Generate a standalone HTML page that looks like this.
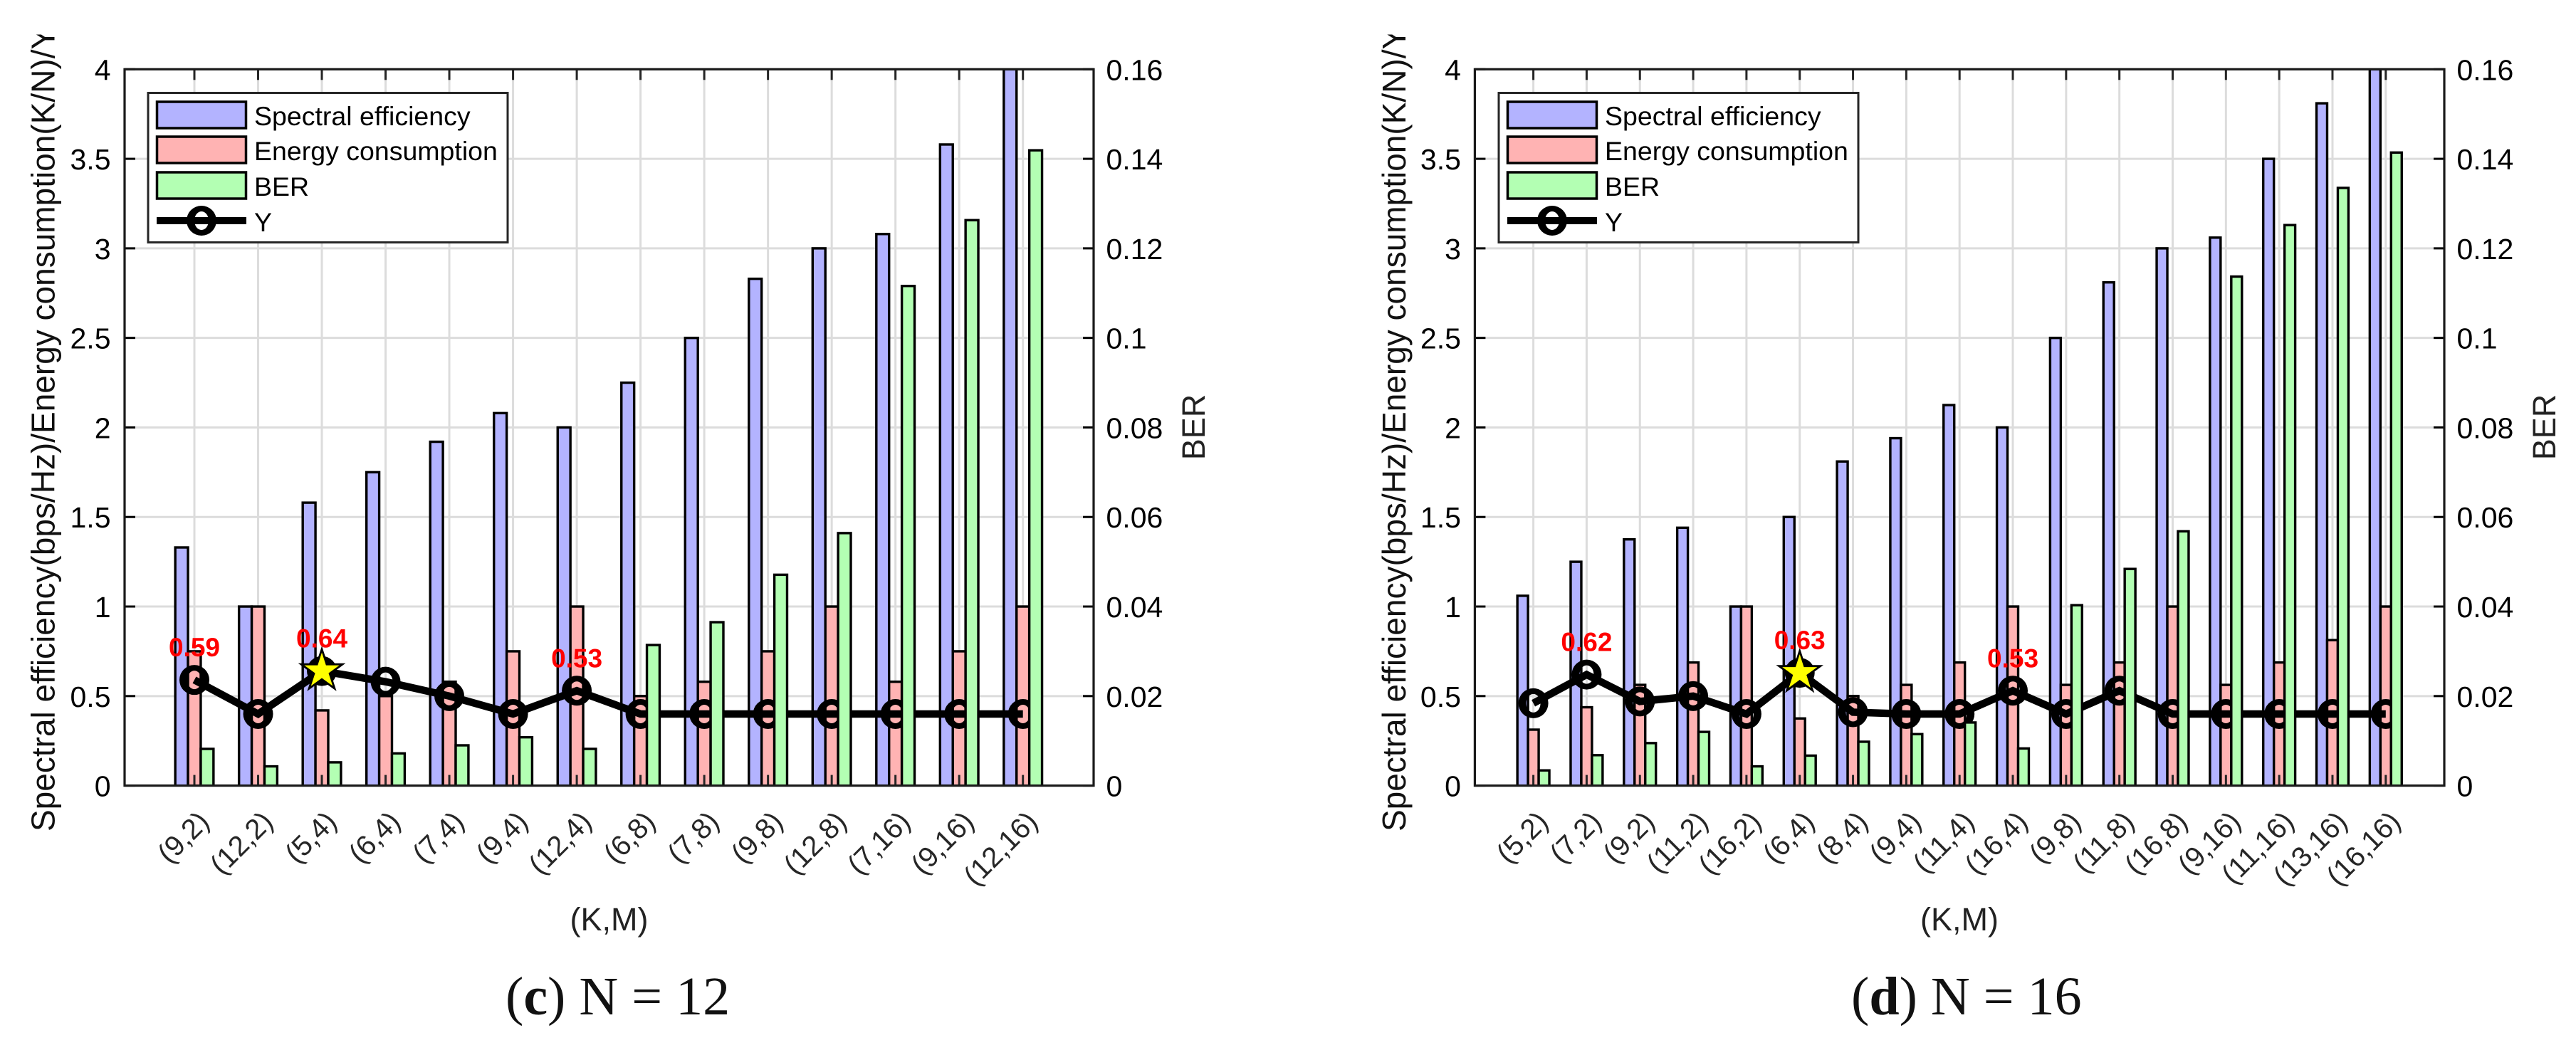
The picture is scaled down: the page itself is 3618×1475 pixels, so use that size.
<!DOCTYPE html>
<html lang="en">
<head>
<meta charset="utf-8">
<title>Spectral efficiency, energy consumption and BER versus (K,M)</title>
<style>
html,body{margin:0;padding:0;background:#fff;}
svg{display:block;font-family:"Liberation Sans",Arial,sans-serif;}
.cap{font-family:"Liberation Serif","Times New Roman",serif;font-size:76px;fill:#111;}
.leg{font-size:37.5px;fill:#000;}
.axt{font-size:45px;fill:#222;}
.ylab{font-size:46px;fill:#111;}
</style>
</head>
<body>
<svg id="figure" xmlns="http://www.w3.org/2000/svg" width="3618" height="1475" viewBox="0 0 3618 1475">
  <defs>
    <clipPath id="title-clip"><rect x="0" y="48.5" width="3618" height="1400"/></clipPath>
  </defs>
  <rect x="0" y="0" width="3618" height="1475" fill="#fff"/>

  <g id="chart-c">
    <g id="marks-c"></g>
    <g clip-path="url(#title-clip)">
      <text class="ylab" transform="translate(76.5,1168) rotate(-90)">Spectral efficiency(bps/Hz)/Energy consumption(K/N)/Y</text>
    </g>
    <text class="axt" text-anchor="middle" transform="translate(1692,600) rotate(-90)">BER</text>
    <text class="axt" text-anchor="middle" x="855.5" y="1307">(K,M)</text>
    <g>
      <rect x="208" y="130.5" width="505" height="210" fill="#fff" stroke="#262626" stroke-width="3"/>
      <rect x="220.5" y="143" width="125" height="37" fill="#b3b3ff" stroke="#000" stroke-width="3.5"/>
      <text class="leg" x="357" y="176">Spectral efficiency</text>
      <rect x="220.5" y="192" width="125" height="37" fill="#ffb3b3" stroke="#000" stroke-width="3.5"/>
      <text class="leg" x="357" y="225">Energy consumption</text>
      <rect x="220.5" y="242" width="125" height="37" fill="#b3ffb3" stroke="#000" stroke-width="3.5"/>
      <text class="leg" x="357" y="275">BER</text>
      <line x1="220" x2="346" y1="310" y2="310" stroke="#000" stroke-width="10"/>
      <path fill-rule="evenodd" fill="#000" d="M262 310a21 21 0 1 0 42 0a21 21 0 1 0 -42 0Z M273 310a10 13 0 1 0 20 0a10 13 0 1 0 -20 0Z"/>
      <text class="leg" x="357" y="325">Y</text>
    </g>
    <text class="cap" x="710" y="1425">(<tspan font-weight="bold">c</tspan>) N = 12</text>
  </g>

  <g id="chart-d">
    <g id="marks-d"></g>
    <g clip-path="url(#title-clip)">
      <text class="ylab" transform="translate(1974,1168) rotate(-90)">Spectral efficiency(bps/Hz)/Energy consumption(K/N)/Y</text>
    </g>
    <text class="axt" text-anchor="middle" transform="translate(3589,600) rotate(-90)">BER</text>
    <text class="axt" text-anchor="middle" x="2752" y="1307">(K,M)</text>
    <g>
      <rect x="2105" y="130.5" width="505" height="210" fill="#fff" stroke="#262626" stroke-width="3"/>
      <rect x="2117.5" y="143" width="125" height="37" fill="#b3b3ff" stroke="#000" stroke-width="3.5"/>
      <text class="leg" x="2254" y="176">Spectral efficiency</text>
      <rect x="2117.5" y="192" width="125" height="37" fill="#ffb3b3" stroke="#000" stroke-width="3.5"/>
      <text class="leg" x="2254" y="225">Energy consumption</text>
      <rect x="2117.5" y="242" width="125" height="37" fill="#b3ffb3" stroke="#000" stroke-width="3.5"/>
      <text class="leg" x="2254" y="275">BER</text>
      <line x1="2117" x2="2243" y1="310" y2="310" stroke="#000" stroke-width="10"/>
      <path fill-rule="evenodd" fill="#000" d="M2159 310a21 21 0 1 0 42 0a21 21 0 1 0 -42 0Z M2170 310a10 13 0 1 0 20 0a10 13 0 1 0 -20 0Z"/>
      <text class="leg" x="2254" y="325">Y</text>
    </g>
    <text class="cap" x="2600" y="1425">(<tspan font-weight="bold">d</tspan>) N = 16</text>
  </g>
</svg>

<script>
// Shared axis ticks
const leftTicks = ["0","0.5","1","1.5","2","2.5","3","3.5","4"];
const rightTicks = ["0","0.02","0.04","0.06","0.08","0.1","0.12","0.14","0.16"];

// Panel (c) N = 12
const categoriesC = ["(9,2)","(12,2)","(5,4)","(6,4)","(7,4)","(9,4)","(12,4)","(6,8)","(7,8)","(9,8)","(12,8)","(7,16)","(9,16)","(12,16)"];
const spectralC = [1.33,1,1.58,1.75,1.92,2.08,2,2.25,2.5,2.83,3,3.08,3.58,4];
const energyC = [0.75,1,0.42,0.5,0.58,0.75,1,0.5,0.58,0.75,1,0.58,0.75,1];
const berC = [0.0082,0.0043,0.0052,0.0072,0.009,0.0108,0.0082,0.0314,0.0365,0.0471,0.0564,0.1116,0.1263,0.1419];
const utilityC = [0.59,0.4,0.64,0.58,0.5,0.4,0.53,0.4,0.4,0.4,0.4,0.4,0.4,0.4];
const annotatedC = [0,2,6];
const bestC = 2;

// Panel (d) N = 16
const categoriesD = ["(5,2)","(7,2)","(9,2)","(11,2)","(16,2)","(6,4)","(8,4)","(9,4)","(11,4)","(16,4)","(9,8)","(11,8)","(16,8)","(9,16)","(11,16)","(13,16)","(16,16)"];
const spectralD = [1.06,1.25,1.375,1.44,1,1.5,1.81,1.94,2.125,2,2.5,2.81,3,3.06,3.5,3.81,4];
const energyD = [0.3125,0.4375,0.5625,0.6875,1,0.375,0.5,0.5625,0.6875,1,0.5625,0.6875,1,0.5625,0.6875,0.8125,1];
const berD = [0.0034,0.0068,0.0095,0.012,0.0043,0.0067,0.0098,0.0115,0.0141,0.0083,0.0403,0.0484,0.0568,0.1137,0.1252,0.1335,0.1414];
const utilityD = [0.46,0.62,0.47,0.5,0.4,0.63,0.41,0.4,0.4,0.53,0.4,0.53,0.4,0.4,0.4,0.4,0.4];
const annotatedD = [1,5,9];
const bestD = 5;

const SVGNS = "http://www.w3.org/2000/svg";
const PLOT_TOP = 97.3, PLOT_BOTTOM = 1103.6;

function make(parent, tag, attrs, text) {
  const node = document.createElementNS(SVGNS, tag);
  for (const key in attrs) node.setAttribute(key, attrs[key]);
  if (text !== undefined) node.textContent = text;
  parent.appendChild(node);
  return node;
}

function ringPath(cx, cy) {
  const R = 21, ix = 10, iy = 13;
  return "M" + (cx - R) + " " + cy + "a" + R + " " + R + " 0 1 0 " + (2 * R) + " 0a" + R + " " + R + " 0 1 0 " + (-2 * R) + " 0Z" +
         "M" + (cx - ix) + " " + cy + "a" + ix + " " + iy + " 0 1 0 " + (2 * ix) + " 0a" + ix + " " + iy + " 0 1 0 " + (-2 * ix) + " 0Z";
}

function drawChart(root, clipId, plotLeft, plotRight, firstTick, lastTick, categories, spectral, energy, ber, utility, annotated, best) {
  const n = categories.length;
  const step = (lastTick - firstTick) / (n - 1);
  const barW = step * 0.2;
  const xAt = i => firstTick + i * step;
  const leftMax = Number(leftTicks[leftTicks.length - 1]);
  const rightMax = Number(rightTicks[rightTicks.length - 1]);
  const yLeft = v => PLOT_BOTTOM - (v / leftMax) * (PLOT_BOTTOM - PLOT_TOP);
  const yRight = v => PLOT_BOTTOM - (v / rightMax) * (PLOT_BOTTOM - PLOT_TOP);

  const clip = make(root, "clipPath", { id: clipId });
  make(clip, "rect", { x: plotLeft, y: PLOT_TOP, width: plotRight - plotLeft, height: PLOT_BOTTOM - PLOT_TOP });

  // grid
  leftTicks.forEach(t => {
    const y = yLeft(Number(t));
    const g = make(root, "line", { x1: plotLeft, x2: plotRight, y1: y, y2: y, stroke: "#dcdcdc", "stroke-width": 3 });
    
    
  });
  categories.forEach((c, i) => {
    const g = make(root, "line", { x1: xAt(i), x2: xAt(i), y1: PLOT_TOP, y2: PLOT_BOTTOM, stroke: "#dcdcdc", "stroke-width": 3 });
    
    
  });

  const bars = make(root, "g", { "clip-path": "url(#" + clipId + ")" });
  
  

  // spectral efficiency and energy bars
  spectral.forEach((v, i) => {
    const y = yLeft(v);
    const r = make(bars, "rect", { x: xAt(i) - 1.5 * barW, y: y, width: barW, height: PLOT_BOTTOM - y + 3, fill: "#b3b3ff", stroke: "#000", "stroke-width": 3.4 });
    
    
  });
  energy.forEach((v, i) => {
    const y = yLeft(v);
    const r = make(bars, "rect", { x: xAt(i) - 0.5 * barW, y: y, width: barW, height: PLOT_BOTTOM - y + 3, fill: "#ffb3b3", stroke: "#000", "stroke-width": 3.4 });
    
    
  });

  // utility line with ring markers
  const pts = utility.map((v, i) => xAt(i) + "," + yLeft(v)).join(" ");
  const line = make(root, "polyline", { points: pts, fill: "none", stroke: "#000", "stroke-width": 10.5, "stroke-linejoin": "miter" });
  
  
  utility.forEach((v, i) => {
    const m = make(root, "path", { d: ringPath(xAt(i), yLeft(v)), "fill-rule": "evenodd", fill: "#000" });
    
    
  });

  // BER bars sit above the line
  const greens = make(root, "g", { "clip-path": "url(#" + clipId + ")" });
  
  
  ber.forEach((v, i) => {
    const y = yRight(v);
    const r = make(greens, "rect", { x: xAt(i) + 0.5 * barW, y: y, width: barW, height: PLOT_BOTTOM - y + 3, fill: "#b3ffb3", stroke: "#000", "stroke-width": 3.4 });
    
    
  });

  // x ticks and rotated labels
  categories.forEach((c, i) => {
    const a = make(root, "line", { x1: xAt(i), x2: xAt(i), y1: PLOT_BOTTOM, y2: PLOT_BOTTOM - 15, stroke: "#262626", "stroke-width": 3 });
    
    
    const b = make(root, "line", { x1: xAt(i), x2: xAt(i), y1: PLOT_TOP, y2: PLOT_TOP + 15, stroke: "#262626", "stroke-width": 3 });
    
    
    const lx = xAt(i) + 23, ly = PLOT_BOTTOM + 53;
    const t = make(root, "text", { x: lx, y: ly, "text-anchor": "end", "font-size": 40, fill: "#262626", transform: "rotate(-45 " + lx + " " + ly + ")" }, c);
    
    
  });

  // left axis ticks
  leftTicks.forEach(label => {
    const y = yLeft(Number(label));
    const k = make(root, "line", { x1: plotLeft, x2: plotLeft + 15, y1: y, y2: y, stroke: "#000", "stroke-width": 3 });
    
    
    const t = make(root, "text", { x: plotLeft - 19.5, y: y + 15, "text-anchor": "end", "font-size": 41, fill: "#000" }, label);
    
    
  });

  // right axis ticks
  rightTicks.forEach(label => {
    const y = yRight(Number(label));
    const k = make(root, "line", { x1: plotRight, x2: plotRight - 15, y1: y, y2: y, stroke: "#000", "stroke-width": 3 });
    
    
    const t = make(root, "text", { x: plotRight + 17.5, y: y + 15, "font-size": 41, fill: "#000" }, label);
    
    
  });

  // plot frame
  const frame = make(root, "rect", { x: plotLeft, y: PLOT_TOP, width: plotRight - plotLeft, height: PLOT_BOTTOM - PLOT_TOP, fill: "none", stroke: "#1a1a1a", "stroke-width": 3.2 });
  
  

  // star on the best point
  const sx = xAt(best), sy = yLeft(utility[best]);
  const starPts = [];
  for (let k = 0; k < 10; k++) {
    const rad = k % 2 === 0 ? 30.5 : 30.5 * 0.382;
    const ang = -Math.PI / 2 + k * Math.PI / 5;
    starPts.push((sx + rad * Math.cos(ang)) + "," + (sy + rad * Math.sin(ang)));
  }
  const star = make(root, "polygon", { points: starPts.join(" "), fill: "#ffff00", stroke: "#000", "stroke-width": 2.8, "stroke-linejoin": "miter", "stroke-miterlimit": 10 });
  
  

  // value annotations
  annotated.forEach(i => {
    const t = make(root, "text", { x: xAt(i), y: yLeft(utility[i]) - 33, "text-anchor": "middle", "font-size": 37, "font-weight": "bold", fill: "#ff0000" }, utility[i].toFixed(2));
    
    
  });
}

drawChart(document.getElementById("marks-c"), "clip-c", 175, 1536, 273, 1436.7, categoriesC, spectralC, energyC, berC, utilityC, annotatedC, bestC);
drawChart(document.getElementById("marks-d"), "clip-d", 2071.4, 3433, 2153.6, 3350.8, categoriesD, spectralD, energyD, berD, utilityD, annotatedD, bestD);
</script>
</body>
</html>
